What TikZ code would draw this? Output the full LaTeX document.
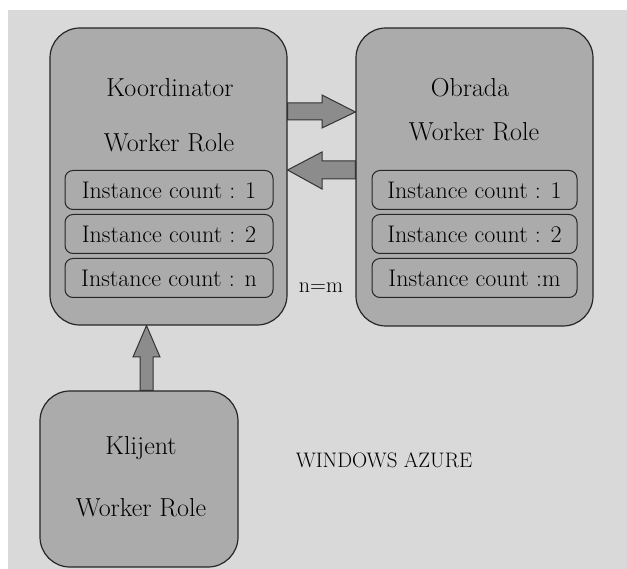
\documentclass[tikz,border=0pt]{standalone}
\usetikzlibrary{positioning}

\definecolor{azurebg}{HTML}{D9D9D9}
\definecolor{rolefill}{HTML}{ABABAB}
\definecolor{arrowfill}{HTML}{8C8C8C}

\begin{document}
\begin{tikzpicture}[
    x=1pt, y=-1pt,
    node distance=4pt,
    role/.style={draw=black!85, line width=1.2pt, rounded corners=30pt, fill=rolefill},
    inst/.style={draw=black!85, line width=1pt, rounded corners=8pt, minimum height=39pt, inner sep=0pt},
    rolename/.style={font=\fontsize{26}{30}\selectfont},
    fatarr/.style={draw=black!80, line width=1pt, fill=arrowfill},
    font=\fontsize{24}{28}\selectfont
  ]
    \useasboundingbox (0,0) rectangle (627,569);
    \fill[azurebg] (8,10) rectangle (627,569);

    % the three worker roles
    \node[role, minimum width=237pt, minimum height=297pt] (koord) at (168.5,176.5) {};
    \node[role, minimum width=237pt, minimum height=298pt] (obrada) at (474.5,177) {};
    \node[role, minimum width=198pt, minimum height=176pt] (klijent) at (139,479) {};

    \node[rolename] (koordname) at (170,88) {Koordinator};
    \node[rolename] (koordrole) at (169,143) {Worker Role};
    \node[rolename] (obradaname) at (470,88) {Obrada};
    \node[rolename] (obradarole) at (474,132) {Worker Role};
    \node[rolename] (klijentname) at (141,448) {Klijent};
    \node[rolename] (klijentrole) at (141,508) {Worker Role};

    % instance counts
    \node[inst, minimum width=208pt] (kinst1) at (169,190) {Instance count : 1};
    \node[inst, minimum width=208pt, below=of kinst1] (kinst2) {Instance count : 2};
    \node[inst, minimum width=208pt, below=of kinst2] (kinst3) {Instance count : n};
    \node[inst, minimum width=205pt] (oinst1) at (474.5,190) {Instance count : 1};
    \node[inst, minimum width=205pt, below=of oinst1] (oinst2) {Instance count : 2};
    \node[inst, minimum width=205pt, below=of oinst2] (oinst3) {Instance count :m};

    \node[font=\fontsize{22}{26}\selectfont] (nm) at (321,288) {n=m};
    \node[font=\fontsize{21}{25}\selectfont] (azure) at (384,460) {WINDOWS AZURE};

    % block arrows
    \draw[fatarr] (koord.east |- 0,103) -- (322,103) -- (322,95) -- (obrada.west |- 0,112)
      -- (322,128) -- (322,120) -- (koord.east |- 0,120) -- cycle;
    \draw[fatarr] (obrada.west |- 0,161) -- (322,161) -- (322,152) -- (koord.east |- 0,170)
      -- (322,189) -- (322,179) -- (obrada.west |- 0,179) -- cycle;
    \draw[fatarr] (klijent.north -| 140,0) -- (140,357) -- (133,357) -- (koord.south -| 146.5,0)
      -- (160,357) -- (153,357) -- (klijent.north -| 153,0) -- cycle;
  \end{tikzpicture}
\end{document}
